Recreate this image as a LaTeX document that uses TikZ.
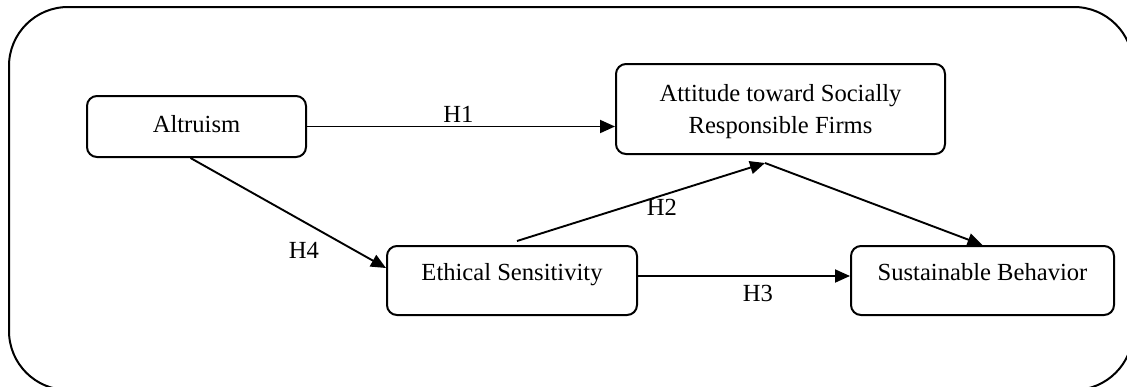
\documentclass[tikz,border=0pt]{standalone}
\usepackage{fontspec}
\setmainfont{Liberation Serif}
\usetikzlibrary{arrows.meta}
\begin{document}
\begin{tikzpicture}[x=0.5pt,y=-0.5pt,
  box/.style={draw,line width=1pt,rounded corners=5pt,inner sep=0pt,align=center,font=\fontsize{12.3pt}{16pt}\selectfont},
  conn/.style={line width=0.95pt,-{Triangle[length=7.5pt,width=6.5pt]}},
  hlab/.style={inner sep=0pt,font=\fontsize{12.3pt}{16pt}\selectfont}]
\useasboundingbox (0,0) rectangle (1127,386);
\begin{scope}
  \clip (0,0) rectangle (1127,386);
  \draw[line width=1pt,rounded corners=29.5pt] (9,7) rectangle (1133,390);
\end{scope}
\node[box,minimum width=109.5pt,minimum height=30.5pt,text height=9pt,text depth=3.5pt] (alt) at (196.5,126.5) {Altruism};
\node[box,minimum width=164.5pt,minimum height=45pt,text depth=0pt] (att) at (780.5,109) {Attitude toward Socially\\Responsible Firms};
\node[box,minimum width=125pt,minimum height=34.5pt,text height=9pt,text depth=9pt] (eth) at (512,280.5) {Ethical Sensitivity};
\node[box,minimum width=131.5pt,minimum height=34.5pt,text height=9pt,text depth=9pt] (sus) at (982.5,280.5) {Sustainable Behavior};
\coordinate (j) at ([shift={(-15.5,8)}]att.south);
\draw[conn] (alt.east) -- (alt.east -| att.west);
\draw[conn] ([xshift=-3pt]alt.south) -- ([yshift=6.25pt]eth.west);
\draw[conn] ([shift={(5,-4)}]eth.north) -- (j);
\draw[conn] (j) -- (sus.north);
\draw[conn] ([yshift=2.25pt]eth.east) -- ([yshift=2.25pt]sus.west);
\node[hlab] (h1) at (458.5,114.5) {H1};
\node[hlab] (h2) at (662,207.5) {H2};
\node[hlab] (h3) at (758,293.5) {H3};
\node[hlab] (h4) at (304,250) {H4};
\end{tikzpicture}
\end{document}
